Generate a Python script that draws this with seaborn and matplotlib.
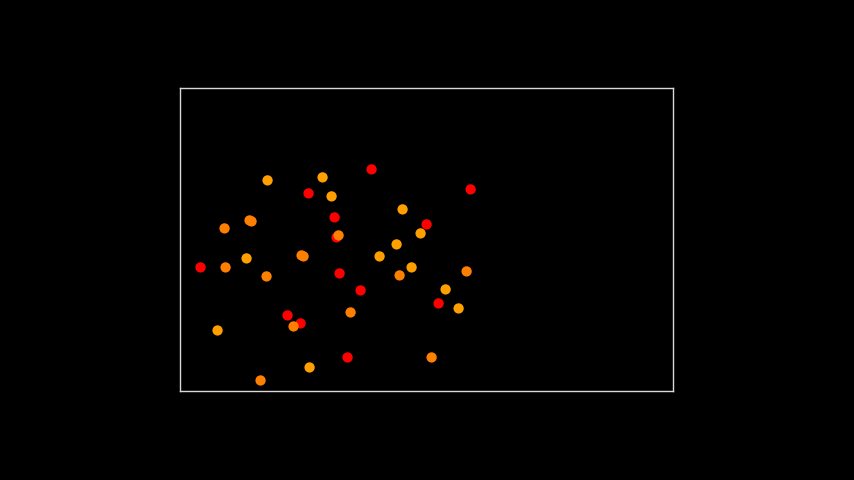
import matplotlib
matplotlib.use("Agg")
import matplotlib.pyplot as plt
import seaborn as sns
import pandas as pd

# data values (x: 0..493, y: 0..303)
x_vals = [191, 87, 142, 290, 128, 151, 222, 154, 69, 71, 44, 246, 240, 156, 158, 216,
          66, 121, 123, 199, 20, 45, 86, 159, 219, 231, 286, 180, 265, 258, 278, 170,
          107, 120, 113, 37, 167, 251, 129, 80]
y_vals = [222, 211, 214, 202, 198, 195, 182, 174, 171, 170, 163, 167, 158, 154, 156, 147,
          133, 136, 135, 135, 124, 124, 115, 118, 116, 124, 120, 101, 102, 88, 83, 79,
          76, 68, 65, 61, 34, 34, 24, 11]
groups = ["red", "light", "light", "red", "red", "light", "light", "red", "dark", "dark",
          "dark", "red", "light", "red", "dark", "light", "light", "dark", "dark", "light",
          "red", "dark", "dark", "red", "dark", "light", "dark", "red", "light", "red",
          "light", "dark", "red", "red", "dark", "light", "red", "dark", "light", "dark"]
palette = {"red": "#ff0000", "dark": "#ff7f00", "light": "#ff9f00"}

df = pd.DataFrame({"x": x_vals, "y": y_vals, "g": groups})

sns.set_style("dark")
fig = plt.figure(figsize=(8.542, 4.802), dpi=100, facecolor="black")
ax = fig.add_axes([180 / 854, 89 / 480, 493 / 854, 303 / 480])
ax.set_facecolor("black")
sns.scatterplot(data=df, x="x", y="y", hue="g", palette=palette, s=55,
                linewidth=0, legend=False, ax=ax)
ax.set_xlim(-0.5, 492.5)
ax.set_ylim(0.5, 303.5)
ax.set_xticks([])
ax.set_yticks([])
ax.set_xlabel("")
ax.set_ylabel("")
ax.grid(False)
for sp in ax.spines.values():
    sp.set_visible(True)
    sp.set_color("#d9d9d9")
    sp.set_linewidth(1)
fig.savefig("out.png", dpi=100, facecolor="black")
